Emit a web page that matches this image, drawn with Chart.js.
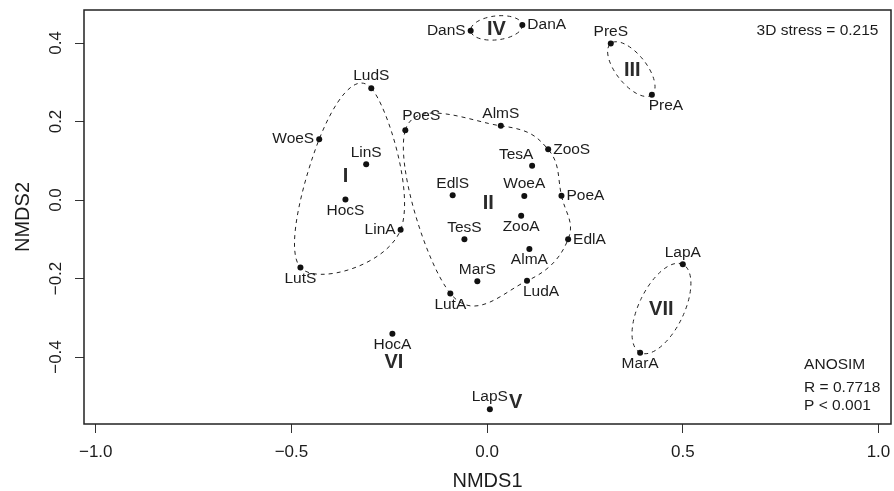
<!DOCTYPE html>
<html>
<head>
<meta charset="utf-8">
<script src="https://cdn.jsdelivr.net/npm/chart.js@4.4.1/dist/chart.umd.min.js"></script>
<style>
  html, body { margin: 0; padding: 0; background: #fff; }
</style>
</head>
<body>
<canvas id="nmds" width="894" height="491"></canvas>
<script>
// site scores (NMDS axis 1 / axis 2)
const sites = ['DanS', 'DanA', 'PreS', 'PreA', 'LudS', 'PoeS', 'WoeS', 'LinS', 'HocS', 'LinA',
  'LutS', 'AlmS', 'ZooS', 'TesA', 'EdlS', 'WoeA', 'PoeA', 'ZooA', 'TesS', 'EdlA',
  'AlmA', 'MarS', 'LudA', 'LutA', 'LapA', 'MarA', 'HocA', 'LapS'];
const nmds1 = [-0.042, 0.090, 0.316, 0.421, -0.296, -0.209, -0.429, -0.309, -0.362, -0.221,
  -0.477, 0.035, 0.156, 0.115, -0.088, 0.095, 0.190, 0.087, -0.058, 0.207,
  0.108, -0.025, 0.102, -0.094, 0.500, 0.391, -0.242, 0.007];
const nmds2 = [0.431, 0.446, 0.399, 0.268, 0.285, 0.178, 0.155, 0.091, 0.001, -0.076,
  -0.172, 0.189, 0.129, 0.087, 0.012, 0.010, 0.011, -0.040, -0.100, -0.100,
  -0.125, -0.207, -0.206, -0.238, -0.164, -0.389, -0.341, -0.533];

// where each site name sits next to its dot
const labelSide = ['l', 'r', 't', 'br', 't', 'tr', 'l', 't', 'b', 'l',
  'b', 't', 'r', 'tl', 't', 't', 'r', 'b', 't', 'r',
  'b', 't', 'br', 'b', 't', 'b', 'b', 't'];

// ANOSIM groups
const groupNames = ['I', 'II', 'III', 'IV', 'V', 'VI', 'VII'];
const groupX = [-0.362, 0.003, 0.371, 0.024, 0.073, -0.238, 0.445];
const groupY = [0.059, -0.010, 0.331, 0.435, -0.516, -0.414, -0.279];
const hulls = [
  ['LudS', 'LinA', 'LutS', 'WoeS'],
  ['PoeS', 'AlmS', 'ZooS', 'PoeA', 'EdlA', 'LudA', 'LutA']
];
const pairs = [['PreS', 'PreA'], ['DanS', 'DanA'], ['LapA', 'MarA']];

// axes
const xTickValues = [-1, -0.5, 0, 0.5, 1];
const xTickLabels = ['\u22121.0', '\u22120.5', '0.0', '0.5', '1.0'];
const yTickValues = [-0.4, -0.2, 0, 0.2, 0.4];
const yTickLabels = ['\u22120.4', '\u22120.2', '0.0', '0.2', '0.4'];

// text notes
const noteText = ['3D stress = 0.215', 'ANOSIM', 'R = 0.7718', 'P < 0.001'];
const noteX = [1.0, 0.81, 0.81, 0.81];
const noteY = [0.431, -0.420, -0.478, -0.524];
const noteAlign = ['right', 'left', 'left', 'left'];

const FONT = '"Liberation Sans", Arial, Helvetica, sans-serif';
const INK = '#1c1c1c';

const sideOffset = {
  t: [0, -12, 'center'], b: [0, 11, 'center'],
  l: [-5, 0, 'right'], r: [5, 0, 'left'],
  tl: [-16, -11, 'center'], tr: [16, -14, 'center'], br: [14, 11, 'center']
};

const decor = {
  id: 'decor',
  beforeDatasetsDraw (chart) {
    const { ctx, scales: { x, y } } = chart;
    const px = name => {
      const i = sites.indexOf(name);
      return [x.getPixelForValue(nmds1[i]), y.getPixelForValue(nmds2[i])];
    };
    ctx.save();
    ctx.strokeStyle = '#222';
    ctx.lineWidth = 1;
    ctx.setLineDash([4, 4]);
    // smooth closed hulls (catmull-rom, a bit looser than standard)
    const k = 5;
    hulls.forEach(h => {
      const p = h.map(px);
      const n = p.length;
      ctx.beginPath();
      ctx.moveTo(p[0][0], p[0][1]);
      for (let i = 0; i < n; i++) {
        const p0 = p[(i - 1 + n) % n], p1 = p[i], p2 = p[(i + 1) % n], p3 = p[(i + 2) % n];
        ctx.bezierCurveTo(
          p1[0] + (p2[0] - p0[0]) / k, p1[1] + (p2[1] - p0[1]) / k,
          p2[0] - (p3[0] - p1[0]) / k, p2[1] - (p3[1] - p1[1]) / k,
          p2[0], p2[1]);
      }
      ctx.closePath();
      ctx.stroke();
    });
    // two-member groups: ellipse through both sites
    pairs.forEach(pr => {
      const [a, b] = pr.map(px);
      const cx = (a[0] + b[0]) / 2, cy = (a[1] + b[1]) / 2;
      const half = Math.hypot(b[0] - a[0], b[1] - a[1]) / 2;
      ctx.beginPath();
      ctx.ellipse(cx, cy, half, half * 0.46, Math.atan2(b[1] - a[1], b[0] - a[0]), 0, Math.PI * 2);
      ctx.stroke();
    });
    ctx.restore();
  },
  afterDatasetsDraw (chart) {
    const { ctx, chartArea: area, scales: { x, y } } = chart;
    ctx.save();
    ctx.fillStyle = INK;
    ctx.textBaseline = 'middle';
    // site names
    ctx.font = '15.5px ' + FONT;
    sites.forEach((s, i) => {
      const o = sideOffset[labelSide[i]];
      ctx.textAlign = o[2];
      ctx.fillText(s, x.getPixelForValue(nmds1[i]) + o[0], y.getPixelForValue(nmds2[i]) + o[1]);
    });
    // group numerals
    ctx.font = 'bold 20px ' + FONT;
    ctx.textAlign = 'center';
    ctx.fillStyle = '#2a2a2a';
    groupNames.forEach((g, i) => {
      ctx.fillText(g, x.getPixelForValue(groupX[i]), y.getPixelForValue(groupY[i]));
    });
    // stress / anosim notes
    ctx.fillStyle = INK;
    ctx.font = '15.5px ' + FONT;
    noteText.forEach((t, i) => {
      ctx.textAlign = noteAlign[i];
      ctx.fillText(t, x.getPixelForValue(noteX[i]), y.getPixelForValue(noteY[i]));
    });
    // plot frame
    ctx.strokeStyle = '#222';
    ctx.lineWidth = 1.5;
    ctx.strokeRect(area.left, area.top, area.right - area.left, area.bottom - area.top);
    ctx.restore();
  }
};

const tickFont = { family: FONT, size: 17 };
const titleFont = { family: FONT, size: 20, lineHeight: 1 };

new Chart(document.getElementById('nmds'), {
  type: 'scatter',
  data: {
    datasets: [{
      data: sites.map((s, i) => ({ x: nmds1[i], y: nmds2[i] })),
      pointRadius: 3,
      pointHoverRadius: 3,
      pointBorderWidth: 0,
      pointBackgroundColor: '#111'
    }]
  },
  options: {
    responsive: false,
    animation: false,
    devicePixelRatio: 1,
    events: [],
    layout: { padding: { left: 0, right: 0, top: 10, bottom: 0 } },
    plugins: { legend: { display: false }, tooltip: { enabled: false } },
    scales: {
      x: {
        type: 'linear',
        min: -1.03,
        max: 1.032,
        afterBuildTicks: s => { s.ticks = xTickValues.map(v => ({ value: v })); },
        afterFit: s => { s.height = 67; s.paddingLeft = 0; s.paddingRight = 0; },
        ticks: {
          callback: v => xTickLabels[xTickValues.indexOf(v)],
          font: tickFont, color: INK, padding: 9,
          minRotation: 0, maxRotation: 0, autoSkip: false
        },
        grid: { drawOnChartArea: false, drawTicks: true, tickLength: 9, tickColor: '#333', tickWidth: 1 },
        border: { display: false },
        title: { display: true, text: 'NMDS1', font: titleFont, color: INK, padding: { top: 0, bottom: 0 } }
      },
      y: {
        type: 'linear',
        min: -0.5707,
        max: 0.4841,
        afterBuildTicks: s => { s.ticks = yTickValues.map(v => ({ value: v })); },
        afterFit: s => { s.width = 84; s.paddingTop = 0; s.paddingBottom = 0; },
        ticks: {
          callback: v => yTickLabels[yTickValues.indexOf(v)],
          font: tickFont, color: INK, padding: 2,
          minRotation: 90, maxRotation: 90, crossAlign: 'center', autoSkip: false
        },
        grid: { drawOnChartArea: false, drawTicks: true, tickLength: 9, tickColor: '#333', tickWidth: 1 },
        border: { display: false },
        title: { display: true, text: 'NMDS2', font: titleFont, color: INK, padding: { top: 13, bottom: 0 } }
      }
    }
  },
  plugins: [decor]
});
</script>
</body>
</html>
